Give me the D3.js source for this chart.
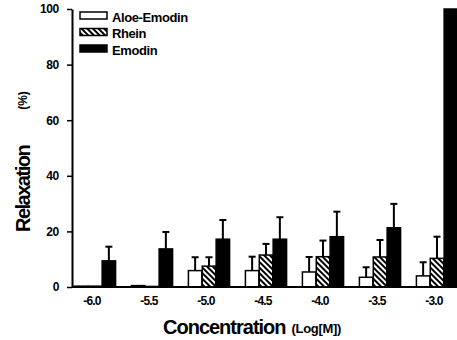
<!DOCTYPE html>
<meta charset="utf-8">
<body style="margin:0;background:#fff;">
<script src="https://d3js.org/d3.v7.min.js"></script>
<script>
	// Data
	var concentrations = ["-6.0", "-5.5", "-5.0", "-4.5", "-4.0", "-3.5", "-3.0"];
	var seriesNames = ["Aloe-Emodin", "Rhein", "Emodin"];
	var aloeMean = [0.3, 0.5, 5.9, 5.9, 5.4, 3.5, 4.0];
	var aloeErr  = [0.3, 0.5, 10.7, 10.9, 10.8, 7.1, 8.9];
	var rheinMean = [0.3, 0.2, 7.5, 11.5, 10.9, 10.8, 10.3];
	var rheinErr  = [0.3, 0.2, 10.7, 15.5, 16.7, 16.9, 18.1];
	var emodinMean = [9.4, 13.7, 17.2, 17.2, 18.1, 21.3, 100];
	var emodinErr  = [14.5, 19.8, 24.1, 25.1, 27.1, 29.9, 100];
	var yTicks = [0, 20, 40, 60, 80, 100];

	var width = 457, height = 340;
	var font = "'Liberation Sans', Arial, sans-serif";

	var svg = d3.select("body").append("svg")
		.attr("width", width)
		.attr("height", height)
		.style("font-family", font);

	// hatch pattern for Rhein
	var defs = svg.append("defs");
	var pat = defs.append("pattern")
		.attr("id", "hatch")
		.attr("patternUnits", "userSpaceOnUse")
		.attr("width", 4).attr("height", 4)
		.attr("patternTransform", "rotate(-45)");
	pat.append("rect").attr("width", 4).attr("height", 4).attr("fill", "#fff");
	pat.append("rect").attr("width", 2).attr("height", 4).attr("fill", "#000");

	var fills = ["#fff", "url(#hatch)", "#000"];

	var x = d3.scaleBand()
		.domain(concentrations)
		.range([72, 460])
		.paddingInner(0.263)
		.paddingOuter(0.035);
	var x1 = d3.scaleBand()
		.domain(seriesNames)
		.range([0, x.bandwidth()])
		.padding(0.03);
	var y = d3.scaleLinear()
		.domain([0, 100])
		.range([287, 9]);

	var rows = concentrations.map(function(c, i) {
		return [
			{c: c, s: seriesNames[0], v: aloeMean[i], e: aloeErr[i]},
			{c: c, s: seriesNames[1], v: rheinMean[i], e: rheinErr[i]},
			{c: c, s: seriesNames[2], v: emodinMean[i], e: emodinErr[i]}
		];
	});

	var groups = svg.selectAll(".grp")
		.data(rows)
	  .enter().append("g")
		.attr("class", "grp")
		.attr("transform", function(d) { return "translate(" + x(d[0].c) + ",0)"; });

	// error bars (drawn first so bars sit over them)
	var eb = groups.selectAll(".err")
		.data(function(d) { return d.filter(function(r) { return r.e > r.v + 0.5; }); })
	  .enter().append("g").attr("class", "err");
	eb.append("line")
		.attr("x1", function(d) { return x1(d.s) + x1.bandwidth() / 2; })
		.attr("x2", function(d) { return x1(d.s) + x1.bandwidth() / 2; })
		.attr("y1", function(d) { return y(d.v); })
		.attr("y2", function(d) { return y(d.e); })
		.attr("stroke", "#000").attr("stroke-width", 2);
	eb.append("line")
		.attr("x1", function(d) { return x1(d.s) + x1.bandwidth() / 2 - 3.5; })
		.attr("x2", function(d) { return x1(d.s) + x1.bandwidth() / 2 + 3.5; })
		.attr("y1", function(d) { return y(d.e); })
		.attr("y2", function(d) { return y(d.e); })
		.attr("stroke", "#000").attr("stroke-width", 2);

	groups.selectAll(".bar")
		.data(function(d) { return d; })
	  .enter().append("rect")
		.attr("class", "bar")
		.attr("x", function(d) { return x1(d.s); })
		.attr("width", x1.bandwidth())
		.attr("y", function(d) { return y(d.v); })
		.attr("height", function(d) { return y(0) - y(d.v); })
		.attr("fill", function(d, i) { return fills[i]; })
		.attr("stroke", "#000")
		.attr("stroke-width", 1.5);

	// axes
	svg.append("line")
		.attr("x1", 72).attr("x2", 457)
		.attr("y1", y(0)).attr("y2", y(0))
		.attr("stroke", "#000").attr("stroke-width", 2);

	var yAxis = svg.append("g")
		.attr("transform", "translate(72,0)")
		.call(d3.axisLeft(y).tickValues(yTicks).tickSize(5).tickSizeOuter(0).tickPadding(8));
	yAxis.select(".domain").attr("stroke-width", 2);
	yAxis.selectAll(".tick line").attr("stroke-width", 1.5);
	yAxis.selectAll("text")
		.style("font-family", font)
		.style("font-size", "12px")
		.style("font-weight", "bold")
		.style("letter-spacing", "-0.3px");

	var xAxis = svg.append("g")
		.attr("transform", "translate(-3," + y(0) + ")")
		.call(d3.axisBottom(x).tickSize(0).tickPadding(9));
	xAxis.select(".domain").remove();
	xAxis.selectAll("text")
		.style("font-family", font)
		.style("font-size", "12px")
		.style("font-weight", "bold")
		.style("letter-spacing", "-0.8px");

	// axis titles
	var yt = svg.append("text")
		.attr("transform", "translate(30,232) rotate(-90)")
		.attr("text-anchor", "start")
		.style("font-weight", "bold")
		.style("letter-spacing", "-1.5px");
	yt.append("tspan").style("font-size", "20px").text("Relaxation");
	yt.append("tspan").attr("dx", 36).attr("dy", -3).style("font-size", "12px").style("letter-spacing", "0px").text("(%)");

	var xt = svg.append("text")
		.attr("x", 163).attr("y", 334)
		.attr("text-anchor", "start")
		.style("font-weight", "bold")
		.style("letter-spacing", "-1px");
	xt.append("tspan").style("font-size", "20px").text("Concentration");
	xt.append("tspan").attr("dx", 6).attr("dy", -1).style("font-size", "13px").style("letter-spacing", "-0.3px").text("(Log[M])");

	// legend
	var legend = svg.selectAll(".leg")
		.data(seriesNames)
	  .enter().append("g")
		.attr("class", "leg")
		.attr("transform", function(d, i) { return "translate(80," + (12 + i * 16.5) + ")"; });
	legend.append("rect")
		.attr("width", 27).attr("height", 7)
		.attr("fill", function(d, i) { return fills[i]; })
		.attr("stroke", "#000").attr("stroke-width", 1.5);
	legend.append("text")
		.attr("x", 32).attr("y", 9.5)
		.style("font-size", "13px")
		.style("font-weight", "bold")
		.style("letter-spacing", "-0.4px")
		.text(function(d) { return d; });
</script>
</body>
